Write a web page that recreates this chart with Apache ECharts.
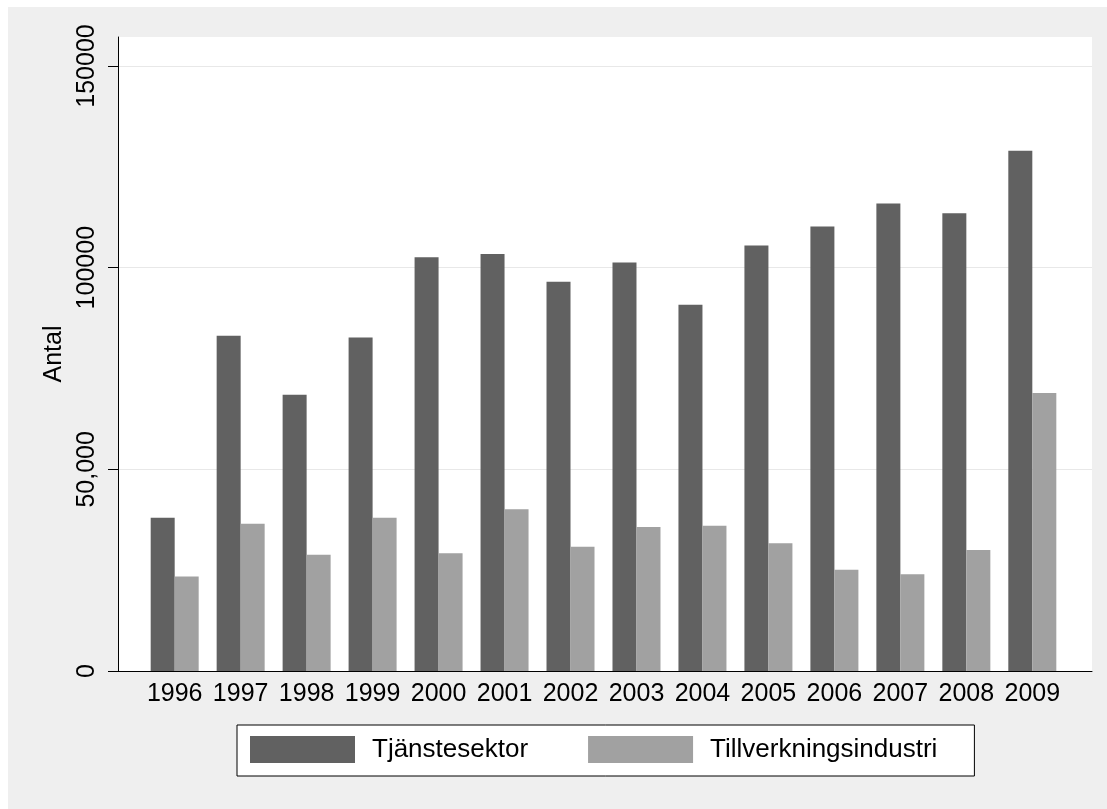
<!DOCTYPE html>
<html>
<head>
<meta charset="utf-8">
<script src="https://cdn.jsdelivr.net/npm/echarts@6/dist/echarts.min.js"></script>
<style>
  html, body { margin: 0; padding: 0; background: #efefef; overflow: hidden; }
  #stripTop { position: fixed; left: 0; top: 0; width: 100%; height: 7px; background: #ffffff; }
  #stripLeft { position: fixed; left: 0; top: 0; width: 8px; height: 100%; background: #ffffff; }
  #chart { position: absolute; left: 8px; top: 7px; width: 1099px; height: 802px; }
</style>
</head>
<body>
<div id="chart"></div>
<div id="stripTop"></div>
<div id="stripLeft"></div>
<script>
// Data
const years = ['1996','1997','1998','1999','2000','2001','2002','2003','2004','2005','2006','2007','2008','2009'];
const tjanstesektor = [38000, 83100, 68500, 82700, 102600, 103400, 96500, 101300, 90800, 105500, 110200, 115900, 113500, 129000];
const tillverkning = [23400, 36500, 28800, 38000, 29200, 40100, 30800, 35700, 36000, 31700, 25100, 24000, 30000, 68900];
const yTickValues = [0, 50000, 100000, 150000];
const yTickLabels = ['0', '50,000', '100000', '150000'];
const seriesNames = ['Tjänstesektor', 'Tillverkningsindustri'];

const FONT = 'Liberation Sans, Arial, sans-serif';
const YMAX = 157190;
const DARK = '#616161';
const LIGHT = '#a1a1a1';

const chart = echarts.init(document.getElementById('chart'), null, { renderer: 'canvas' });
chart.setOption({
  backgroundColor: '#efefef',
  animation: false,
  textStyle: { fontFamily: FONT },
  grid: [
    { left: 110, top: 30, width: 974, height: 634, show: true, backgroundColor: '#ffffff', borderWidth: 0 },
    { left: 133.7, top: 30, width: 923.6, height: 634 }
  ],
  legend: {
    data: seriesNames,
    left: 229, top: 718,
    orient: 'horizontal',
    icon: 'rect',
    itemWidth: 105, itemHeight: 27,
    itemGap: 60,
    padding: [11, 37, 13, 13],
    backgroundColor: '#ffffff',
    borderColor: '#000000', borderWidth: 1,
    textStyle: { fontSize: 26, color: '#000', fontFamily: FONT, padding: [0, 0, 0, 12] }
  },
  xAxis: [
    {
      gridIndex: 0, type: 'value', min: 0, max: 1, position: 'bottom',
      axisLine: { show: true, lineStyle: { color: '#000', width: 1 } },
      axisTick: { show: false }, axisLabel: { show: false }, splitLine: { show: false }
    },
    {
      gridIndex: 1, type: 'category', data: years, position: 'bottom',
      axisLine: { show: false }, axisTick: { show: false }, splitLine: { show: false },
      axisLabel: { fontSize: 25, color: '#000', fontFamily: FONT, margin: 11, interval: 0 }
    }
  ],
  yAxis: [
    {
      gridIndex: 0, type: 'value', min: 0, max: YMAX, interval: 50000,
      name: 'Antal', nameLocation: 'middle', nameRotate: 90, nameGap: 50,
      nameTextStyle: { fontSize: 25, color: '#000', fontFamily: FONT },
      axisLine: { show: true, lineStyle: { color: '#000', width: 1 } },
      axisTick: { show: true, inside: false, length: 10, lineStyle: { color: '#000' }, customValues: yTickValues },
      axisLabel: {
        rotate: 90, fontSize: 25, color: '#000', fontFamily: FONT, margin: 18,
        customValues: yTickValues,
        formatter: function (v) { const i = yTickValues.indexOf(v); return i >= 0 ? yTickLabels[i] : ''; }
      },
      splitLine: { show: true, lineStyle: { color: '#e8e8e8', width: 1 } }
    },
    {
      gridIndex: 1, type: 'value', min: 0, max: YMAX, show: false,
      splitLine: { show: false }
    }
  ],
  series: [
    {
      name: seriesNames[0], type: 'bar', xAxisIndex: 1, yAxisIndex: 1,
      data: tjanstesektor, barWidth: 24, barGap: '0%',
      itemStyle: { color: DARK }
    },
    {
      name: seriesNames[1], type: 'bar', xAxisIndex: 1, yAxisIndex: 1,
      data: tillverkning, barWidth: 24, barGap: '0%',
      itemStyle: { color: LIGHT }
    }
  ]
});
</script>
</body>
</html>
